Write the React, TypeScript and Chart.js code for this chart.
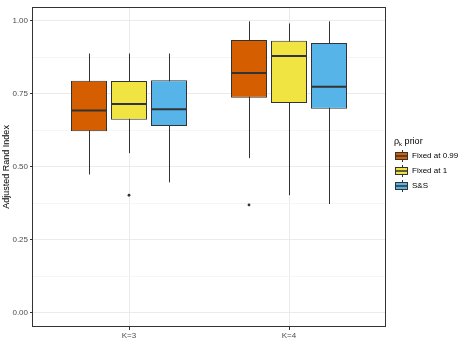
import React, { useEffect, useRef } from "react";
import { Chart, registerables } from "chart.js";

Chart.register(...registerables);

const categories = ["K=3", "K=4"];
const seriesNames = ["Fixed at 0.99", "Fixed at 1", "S&S"];
const seriesColors = ["#D55E00", "#F0E442", "#56B4E9"];

const lowF099 = [0.474, 0.53];
const q1F099 = [0.622, 0.737];
const medF099 = [0.693, 0.821];
const q3F099 = [0.795, 0.934];
const highF099 = [0.888, 0.998];
const outF099 = [[], [0.37]];

const lowF1 = [0.547, 0.403];
const q1F1 = [0.661, 0.719];
const medF1 = [0.715, 0.88];
const q3F1 = [0.794, 0.932];
const highF1 = [0.888, 0.991];
const outF1 = [[0.403], []];

const lowSS = [0.447, 0.373];
const q1SS = [0.64, 0.699];
const medSS = [0.697, 0.774];
const q3SS = [0.797, 0.924];
const highSS = [0.888, 0.998];
const outSS = [[], []];

const yMajorTicks = [0, 0.25, 0.5, 0.75, 1];
const yMinorTicks = [0.125, 0.375, 0.625, 0.875];

const lows = [lowF099, lowF1, lowSS];
const q1s = [q1F099, q1F1, q1SS];
const meds = [medF099, medF1, medSS];
const q3s = [q3F099, q3F1, q3SS];
const highs = [highF099, highF1, highSS];
const outs = [outF099, outF1, outSS];

const FONT = "'Liberation Sans', Arial, sans-serif";
const DARK = "#333333";

const boxPlugin = {
  id: "boxExtras",
  beforeDatasetsDraw(chart: any) {
    const ctx = chart.ctx;
    const y = chart.scales.y;
    ctx.save();
    ctx.strokeStyle = DARK;
    ctx.lineWidth = 1;
    chart.data.datasets.forEach((_ds: any, di: number) => {
      const meta = chart.getDatasetMeta(di);
      meta.data.forEach((el: any, i: number) => {
        const x = Math.round(el.x) + 0.5;
        ctx.beginPath();
        ctx.moveTo(x, y.getPixelForValue(lows[di][i]));
        ctx.lineTo(x, y.getPixelForValue(highs[di][i]));
        ctx.stroke();
      });
    });
    ctx.restore();
  },
  afterDatasetsDraw(chart: any) {
    const ctx = chart.ctx;
    const y = chart.scales.y;
    ctx.save();
    chart.data.datasets.forEach((_ds: any, di: number) => {
      const meta = chart.getDatasetMeta(di);
      meta.data.forEach((el: any, i: number) => {
        const half = el.width / 2;
        const my = y.getPixelForValue(meds[di][i]);
        ctx.strokeStyle = DARK;
        ctx.lineWidth = 2;
        ctx.beginPath();
        ctx.moveTo(el.x - half, my);
        ctx.lineTo(el.x + half, my);
        ctx.stroke();
        ctx.fillStyle = DARK;
        outs[di][i].forEach((v: number) => {
          ctx.beginPath();
          ctx.arc(el.x, y.getPixelForValue(v), 1.4, 0, Math.PI * 2);
          ctx.fill();
        });
      });
    });
    ctx.restore();
  },
  afterDraw(chart: any) {
    const ctx = chart.ctx;
    const a = chart.chartArea;
    ctx.save();
    ctx.strokeStyle = DARK;
    ctx.lineWidth = 1;
    ctx.strokeRect(Math.round(a.left) - 0.5, Math.round(a.top) + 0.5, Math.round(a.right - a.left) + 1, Math.round(a.bottom - a.top) - 1);

    // legend
    const lx = 394;
    ctx.fillStyle = "#000";
    ctx.textBaseline = "alphabetic";
    ctx.font = `9px ${FONT}`;
    ctx.fillText("\u03C1", lx, 144);
    const rw = ctx.measureText("\u03C1").width;
    ctx.font = `6px ${FONT}`;
    ctx.fillText("k", lx + rw, 146);
    const kw = ctx.measureText("k").width;
    ctx.font = `9px ${FONT}`;
    ctx.fillText(" prior", lx + rw + kw, 144);

    seriesNames.forEach((name, i) => {
      const cy = 156 + i * 15;
      const kx0 = 395;
      const kx1 = 408;
      const kc = Math.round((kx0 + kx1) / 2) + 0.5;
      ctx.strokeStyle = DARK;
      ctx.lineWidth = 1;
      ctx.beginPath();
      ctx.moveTo(kc, cy - 6);
      ctx.lineTo(kc, cy + 6);
      ctx.stroke();
      ctx.fillStyle = seriesColors[i];
      ctx.fillRect(kx0, cy - 3.5, kx1 - kx0, 7);
      ctx.strokeRect(kx0 + 0.5, cy - 3.5, kx1 - kx0 - 1, 7);
      ctx.lineWidth = 1.5;
      ctx.beginPath();
      ctx.moveTo(kx0, cy);
      ctx.lineTo(kx1, cy);
      ctx.stroke();
      ctx.fillStyle = "#000";
      ctx.font = `8px ${FONT}`;
      ctx.textBaseline = "middle";
      ctx.fillText(name, 412, cy);
    });
    ctx.restore();
  },
};

export default function App() {
  const ref = useRef<HTMLCanvasElement | null>(null);

  useEffect(() => {
    document.body.style.margin = "0";
    if (!ref.current) return;
    const datasets = seriesNames.map((name, si) => ({
      label: name,
      data: categories.map((_c, ci) => ({ x: ci + 1, y: [q1s[si][ci], q3s[si][ci]] })),
      backgroundColor: seriesColors[si],
      borderColor: DARK,
      borderWidth: 1,
      borderSkipped: false,
      barPercentage: 0.9,
      categoryPercentage: 0.75,
    }));
    const chart = new Chart(ref.current, {
      type: "bar",
      data: { datasets } as any,
      options: {
        animation: false,
        responsive: false,
        devicePixelRatio: 1,
        layout: { padding: { top: 3, right: 83, left: 0, bottom: 0 } },
        plugins: { legend: { display: false }, tooltip: { enabled: false } },
        scales: {
          x: {
            type: "linear",
            min: 0.4,
            max: 2.6,
            offset: false,
            afterBuildTicks: (s: any) => {
              s.ticks = categories.map((_c, i) => ({ value: i + 1 }));
            },
            afterFit: (s: any) => {
              s.height = 24;
            },
            ticks: {
              callback: (v: any) => categories[Math.round(v) - 1] ?? "",
              font: { size: 8, family: FONT },
              color: "#4D4D4D",
              padding: 1,
              maxRotation: 0,
            },
            grid: {
              offset: false,
              color: "#EBEBEB",
              tickColor: DARK,
              tickLength: 3,
              drawTicks: true,
            },
            border: { display: false },
          },
          y: {
            type: "linear",
            min: -0.048,
            max: 1.048,
            afterBuildTicks: (s: any) => {
              s.ticks = [...yMajorTicks, ...yMinorTicks].sort((a, b) => a - b).map((v) => ({ value: v }));
            },
            afterFit: (s: any) => {
              s.width = 33;
            },
            ticks: {
              callback: (v: any) => (yMajorTicks.includes(Number(v)) ? Number(v).toFixed(2) : ""),
              font: { size: 8, family: FONT },
              color: "#4D4D4D",
              padding: 2,
              autoSkip: false,
            },
            grid: {
              color: (c: any) => (yMajorTicks.includes(c.tick?.value) ? "#EBEBEB" : "#F5F5F5"),
              tickColor: (c: any) => (yMajorTicks.includes(c.tick?.value) ? DARK : "rgba(0,0,0,0)"),
              tickLength: 3,
            },
            border: { display: false },
            title: {
              display: true,
              text: "Adjusted Rand Index",
              font: { size: 9, family: FONT },
              color: "#000",
              padding: { top: 1, bottom: 0 },
            },
          },
        },
      },
      plugins: [boxPlugin],
    } as any);
    return () => chart.destroy();
  }, []);

  return (
    <div style={{ position: "fixed", left: 0, top: 0, width: 468, height: 351 }}>
      <canvas ref={ref} width={468} height={351} style={{ width: 468, height: 351 }} />
    </div>
  );
}
